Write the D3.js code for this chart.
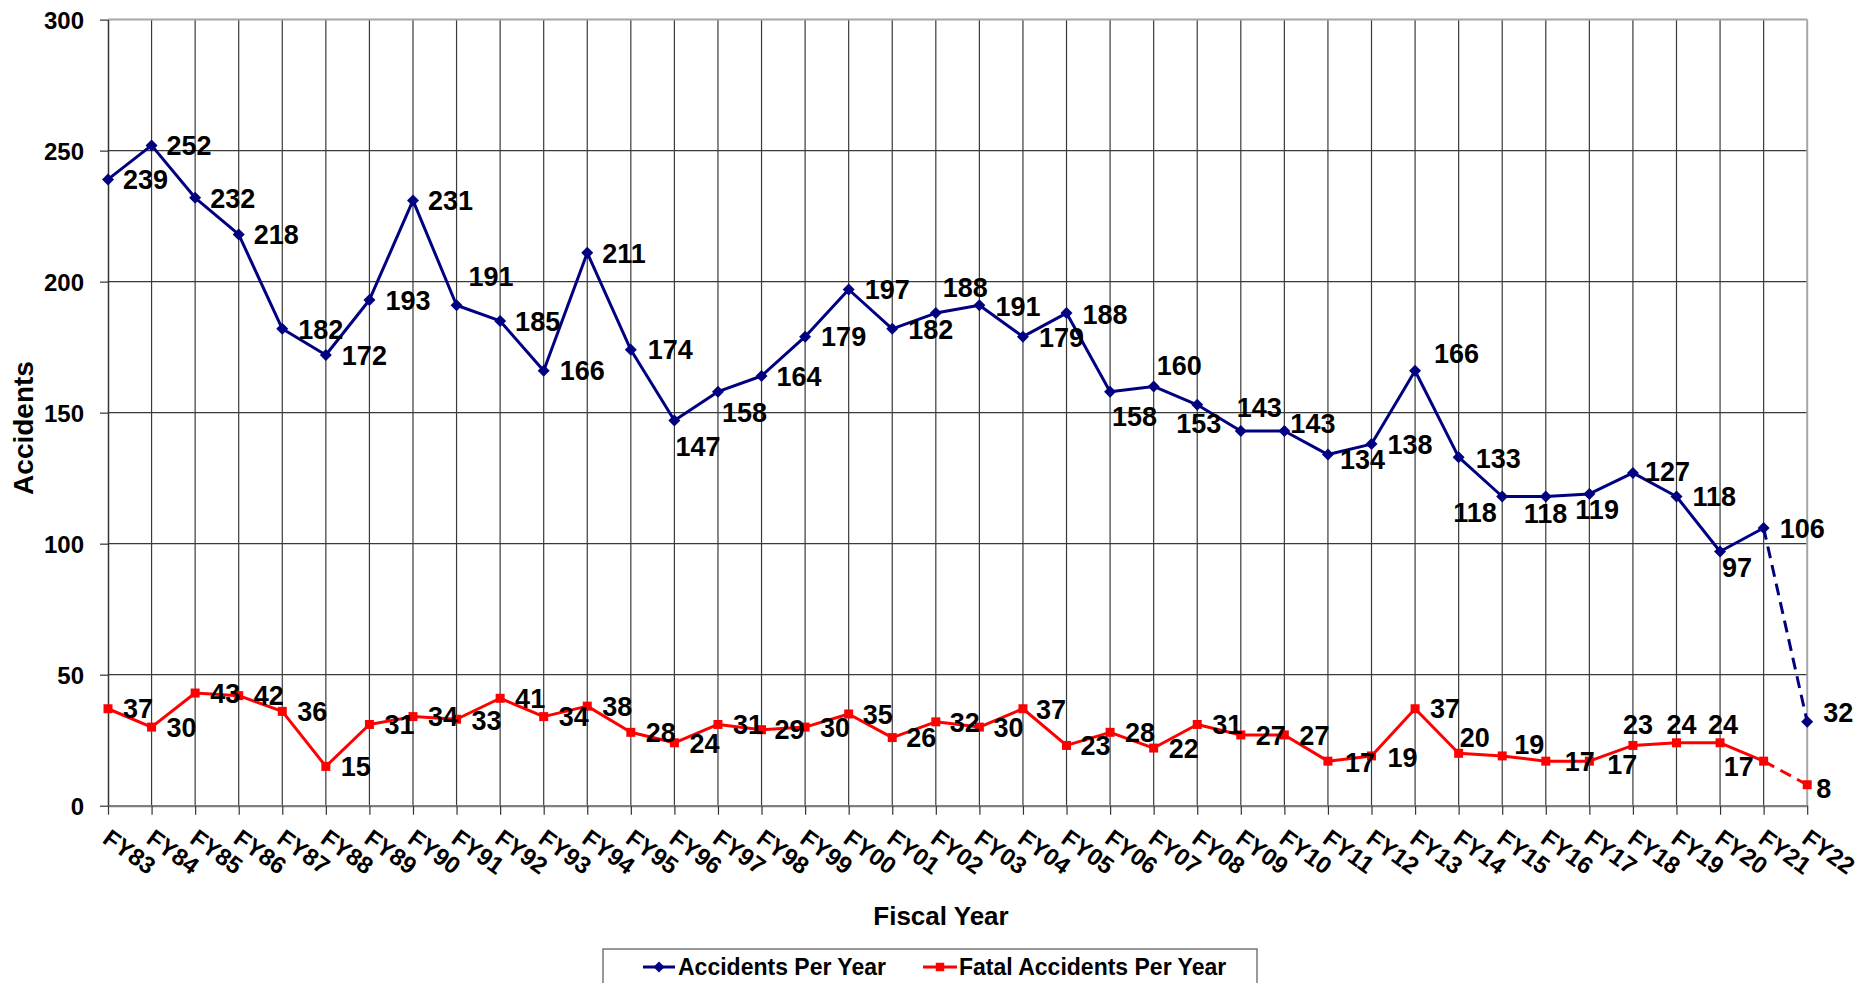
<!DOCTYPE html>
<html><head><meta charset="utf-8">
<script src="https://cdn.jsdelivr.net/npm/d3@7"></script>
<style>
body{margin:0;background:#fff;}
text{font-family:"Liberation Sans",Arial,sans-serif;font-weight:bold;fill:#000;}
</style>
</head><body>
<svg id="c" width="1866" height="983"></svg>
<script>
// ---------- data ----------
const categories = ["FY83","FY84","FY85","FY86","FY87","FY88","FY89","FY90","FY91","FY92",
  "FY93","FY94","FY95","FY96","FY97","FY98","FY99","FY00","FY01","FY02",
  "FY03","FY04","FY05","FY06","FY07","FY08","FY09","FY10","FY11","FY12",
  "FY13","FY14","FY15","FY16","FY17","FY18","FY19","FY20","FY21","FY22"];
const accidents = [239,252,232,218,182,172,193,231,191,185,
  166,211,174,147,158,164,179,197,182,188,
  191,179,188,158,160,153,143,143,134,138,
  166,133,118,118,119,127,118,97,106,32];
const fatalAccidents = [37,30,43,42,36,15,31,34,33,41,
  34,38,28,24,31,29,30,35,26,32,
  30,37,23,28,22,31,27,27,17,19,
  37,20,19,17,17,23,24,24,17,8];
const yTickValues = [0,50,100,150,200,250,300];
const seriesNames = ["Accidents Per Year","Fatal Accidents Per Year"];
const xTitle = "Fiscal Year";
const yTitle = "Accidents";

// ---------- label placement (style: [left-edge dx, center dy] from the point) ----------
const accLabelOffsets = [[15,0],[15,0],[15,0],[15,0],[16,0],[16,0],[16,0],[15,0],[12,-29],[15,0],
  [16,0],[15,0],[17,0],[1,26],[4,21],[15,0],[16,0],[16,0],[16,0],[7,-26],
  [16,1],[16,1],[16,1],[2,25],[3,-21],[-21,18],[-4,-24],[6,-8],[12,5],[16,0],
  [19,-17],[17,1],[-49,16],[-22,17],[-14,15],[12,-2],[16,0],[2,16],[16,0],[16,-10]];
const fatalLabelOffsets = [[15,0],[15,0],[15,0],[15,0],[15,0],[15,0],[15,0],[15,0],[15,1],[15,0],
  [15,0],[15,0],[15,0],[15,0],[15,0],[13,0],[15,0],[14,0],[14,0],[14,0],
  [14,0],[13,1],[14,0],[15,0],[15,0],[15,0],[15,0],[15,0],[17,1],[16,1],
  [15,0],[1,-16],[12,-12],[19,0],[18,3],[-10,-21],[-10,-19],[-12,-19],[-40,5],[9,4]];

// ---------- layout ----------
const L = 108, R = 1807.2, T = 19.6, B = 805.7;
const BLUE = "#000080", RED = "#ff0000";
const x = d3.scalePoint().domain(categories).range([L, R]);
const y = d3.scaleLinear().domain([0, 300]).range([B, T]);
const svg = d3.select("#c");

// grid
svg.append("g").selectAll("line").data(yTickValues.filter(d => d > 0 && d < 300)).join("line")
  .attr("x1", L).attr("x2", R).attr("y1", d => y(d)).attr("y2", d => y(d))
  .attr("stroke", "#3a3a3a").attr("stroke-width", 1.2);
svg.append("g").selectAll("line").data(categories.slice(1, -1)).join("line")
  .attr("x1", d => x(d)).attr("x2", d => x(d)).attr("y1", T).attr("y2", B)
  .attr("stroke", "#3a3a3a").attr("stroke-width", 1.2);
// plot border top/right
svg.append("line").attr("x1", L).attr("x2", R).attr("y1", y(300)).attr("y2", y(300))
  .attr("stroke", "#a6a6a6").attr("stroke-width", 2);
svg.append("line").attr("x1", R).attr("x2", R).attr("y1", T).attr("y2", B)
  .attr("stroke", "#a6a6a6").attr("stroke-width", 2);

// y axis
const yAxis = svg.append("g").attr("transform", `translate(${L},0)`)
  .call(d3.axisLeft(y).tickValues(yTickValues).tickSize(8).tickSizeOuter(0).tickPadding(16));
yAxis.select(".domain").attr("stroke", "#333").attr("stroke-width", 1.5);
yAxis.selectAll(".tick line").attr("stroke", "#333").attr("stroke-width", 1.2);
yAxis.selectAll(".tick text").style("font-size", "24px").attr("dy", "0.36em");

// x axis
const xAxis = svg.append("g").attr("transform", `translate(0,${B})`)
  .call(d3.axisBottom(x).tickSize(9).tickSizeOuter(0));
xAxis.select(".domain").attr("stroke", "#7f7f7f").attr("stroke-width", 2.2);
xAxis.selectAll(".tick line").attr("stroke", "#333").attr("stroke-width", 1.2);
xAxis.selectAll(".tick text")
  .attr("x", 0).attr("y", 0).attr("dy", "0.72em")
  .attr("text-anchor", "start")
  .attr("transform", "translate(3,22) rotate(36)")
  .style("font-size", "24px");

// lines
const line = d3.line().x(d => x(d.c)).y(d => y(d.v));
function series(vals) { return vals.map((v, i) => ({c: categories[i], v: v, i: i})); }
const accData = series(accidents), fatData = series(fatalAccidents);
const n = categories.length;

function drawSeries(data, color) {
  svg.append("path").datum(data.slice(0, n - 1)).attr("d", line)
    .attr("fill", "none").attr("stroke", color).attr("stroke-width", 3).attr("stroke-linejoin", "round");
  svg.append("path").datum(data.slice(n - 2)).attr("d", line)
    .attr("fill", "none").attr("stroke", color).attr("stroke-width", 3).attr("stroke-dasharray", "12,7");
}
drawSeries(accData, BLUE);
drawSeries(fatData, RED);

// markers
const sq = d3.symbol().type(d3.symbolSquare);
svg.append("g").selectAll("path").data(accData).join("path")
  .attr("d", sq.size(72)())
  .attr("transform", d => `translate(${x(d.c)},${y(d.v)}) rotate(45)`)
  .attr("fill", BLUE);
svg.append("g").selectAll("path").data(fatData).join("path")
  .attr("d", d3.symbol().type(d3.symbolSquare).size(81)())
  .attr("transform", d => `translate(${x(d.c)},${y(d.v)})`)
  .attr("fill", RED);

// data labels
function drawLabels(data, offsets) {
  svg.append("g").selectAll("text").data(data).join("text")
    .attr("x", d => x(d.c) + offsets[d.i][0])
    .attr("y", d => y(d.v) + offsets[d.i][1])
    .attr("dy", "0.36em")
    .style("font-size", "27px")
    .text(d => d.v);
}
drawLabels(accData, accLabelOffsets);
drawLabels(fatData, fatalLabelOffsets);

// axis titles
svg.append("text").attr("transform", "translate(33,428) rotate(-90)")
  .attr("text-anchor", "middle").style("font-size", "28px").text(yTitle);
svg.append("text").attr("x", 941).attr("y", 925)
  .attr("text-anchor", "middle").style("font-size", "26px").text(xTitle);

// legend
const lg = svg.append("g");
lg.append("rect").attr("x", 603).attr("y", 949).attr("width", 654).attr("height", 60)
  .attr("fill", "#fff").attr("stroke", "#555").attr("stroke-width", 1.2);
const legendItems = [
  {name: seriesNames[0], color: BLUE, x0: 643, x1: 675, tx: 678, diamond: true},
  {name: seriesNames[1], color: RED, x0: 923, x1: 957, tx: 959, diamond: false}
];
legendItems.forEach(it => {
  lg.append("line").attr("x1", it.x0).attr("x2", it.x1).attr("y1", 967).attr("y2", 967)
    .attr("stroke", it.color).attr("stroke-width", 3);
  lg.append("path")
    .attr("d", d3.symbol().type(d3.symbolSquare).size(it.diamond ? 60 : 72)())
    .attr("transform", `translate(${(it.x0 + it.x1) / 2},967)` + (it.diamond ? " rotate(45)" : ""))
    .attr("fill", it.color);
  lg.append("text").attr("x", it.tx).attr("y", 975).style("font-size", "23px").text(it.name);
});
</script>
</body></html>
